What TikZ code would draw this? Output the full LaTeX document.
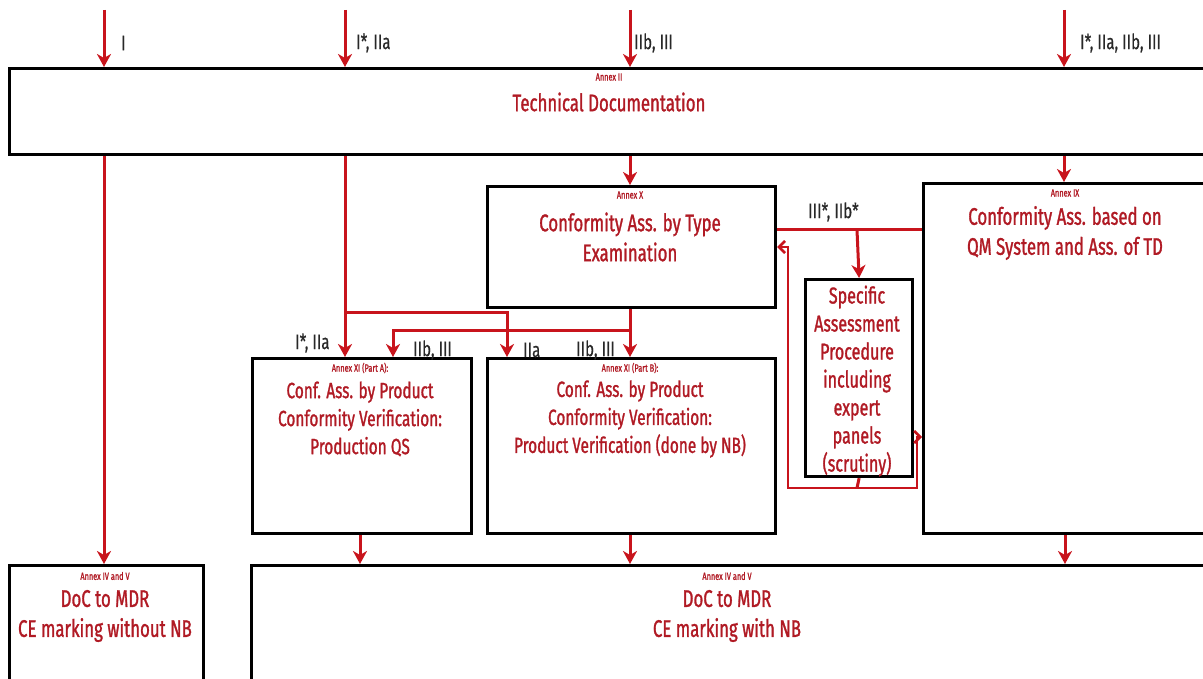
\documentclass[tikz,border=0pt]{standalone}
\usepackage{fontspec}
\setmainfont[FakeStretch=0.7,FakeBold=1.2]{Fira Sans}
\newfontfamily\lblfont[FakeStretch=0.72,FakeBold=0.4]{Fira Sans}
\usetikzlibrary{arrows.meta}
\definecolor{linered}{RGB}{200,20,28}
\definecolor{txtred}{RGB}{176,26,36}
\definecolor{lblgray}{RGB}{40,40,40}
\tikzset{
  box/.style={draw=black, line width=3.2pt, anchor=north west, inner sep=0pt},
  arr/.style={draw=linered, line width=3pt, -{Stealth[length=13pt,width=14pt,inset=4pt]}},
  ln/.style={draw=linered, line width=3pt},
  oarr/.style={draw=linered, line width=2.6pt, -{Straight Barb[length=6pt,width=12pt]}},
  ttl/.style={text=txtred, font=\fontsize{24}{30}\selectfont, align=center, inner sep=0pt},
  anx/.style={text=txtred, font=\fontsize{10.5}{11}\selectfont, inner sep=0pt},
  lbl/.style={text=lblgray, font=\lblfont\fontsize{21}{22}\selectfont, inner sep=0pt, anchor=west},
}
\begin{document}
\begin{tikzpicture}[x=1pt,y=-1pt]
\useasboundingbox (0,0) rectangle (1203,679);
\clip (0,0) rectangle (1203,679);
% boxes
\node[box, minimum width=1215pt, minimum height=86pt] (td) at (8,67) {};
\node[box, minimum width=288pt, minimum height=121pt] (ax) at (486,185) {};
\node[box, minimum width=300pt, minimum height=350pt] (aix) at (922,182) {};
\node[box, minimum width=107pt, minimum height=197pt] (sc) at (804,278) {};
\node[box, minimum width=219pt, minimum height=175pt] (pa) at (251,357) {};
\node[box, minimum width=288pt, minimum height=175pt] (pb) at (486,357) {};
\node[box, minimum width=194pt, minimum height=140pt] (dn) at (8,564) {};
\node[box, minimum width=970pt, minimum height=140pt] (dw) at (250,564) {};
% texts
\node[anx] (tda) at (609,77) {Annex II};
\node[ttl] (tdt) at (609,102) {Technical Documentation};
\node[anx] (axa) at (630,195) {Annex X};
\node[ttl] (axt) at (630,237) {Conformity Ass. by Type\\Examination};
\node[anx] (aixa) at (1065,193) {Annex IX};
\node[ttl] (aixt) at (1065,233) {Conformity Ass. based on\\QM System and Ass. of TD};
\node[ttl, font=\fontsize{23}{28}\selectfont] (sct) at (857,381) {Specific\\Assessment\\Procedure\\including\\expert\\panels\\(scrutiny)};
\node[anx] (paa) at (360,368) {Annex XI (Part A):};
\node[ttl, font=\fontsize{22}{28}\selectfont] (pat) at (360,419) {Conf. Ass. by Product\\Conformity Verification:\\Production QS};
\node[anx] (pba) at (630,368) {Annex XI (Part B):};
\node[ttl, font=\fontsize{22}{28}\selectfont] (pbt) at (630,419) {Conf. Ass. by Product\\Conformity Verification:\\Product Verification (done by NB)};
\node[anx] (dna) at (105,576) {Annex IV and V};
\node[ttl] (dnt) at (105,616) {DoC to MDR\\CE marking without NB};
\node[anx] (dwa) at (727,576) {Annex IV and V};
\node[ttl] (dwt) at (727,616) {DoC to MDR\\CE marking with NB};
% top inputs
\coordinate (s1) at (104,10);
\coordinate (s2) at (345,10);
\coordinate (s3) at (630,10);
\coordinate (s4) at (1064,10);
\draw[arr] (s1) -- (s1 |- td.north);
\draw[arr] (s2) -- (s2 |- td.north);
\draw[arr] (s3) -- (s3 |- td.north);
\draw[arr] (s4) -- (s4 |- td.north);
\node[lbl] (l1) at (121,43) {I};
\node[lbl] (l2) at (356,43) {I*, IIa};
\node[lbl] (l3) at (634,43) {IIb, III};
\node[lbl] (l4) at (1080,43) {I*, IIa, IIb, III};
% from technical documentation
\draw[arr] (s1 |- td.south) -- (s1 |- dn.north);
\draw[arr] (s2 |- td.south) -- (s2 |- pa.north);
\draw[arr] (s3 |- td.south) -- (s3 |- ax.north);
\draw[arr] (s4 |- td.south) -- (s4 |- aix.north);
% routing to annex XI
\coordinate (j1) at (345,313);
\coordinate (j2) at (630,330);
\draw[arr] (j1) -- (507,313) -- (507 ,0 |- pb.north);
\draw[arr] (s3 |- ax.south) -- (s3 |- pb.north);
\draw[arr] (j2) -- (393,330) -- (393,0 |- pa.north);
\node[lbl] (l5) at (295,343) {I*, IIa};
\node[lbl] (l6) at (413,350) {IIb, III};
\node[lbl] (l7) at (523,350) {IIa};
\node[lbl] (l8) at (576,350) {IIb, III};
% scrutiny loop
\coordinate (k1) at (922,230);
\coordinate (k2) at (857,230);
\draw[ln] (k1) -- (ax.east |- k1);
\draw[arr] (k2) -- (sc.north);
\node[lbl] (l9) at (808,212) {III*, IIb*};
\coordinate (b1) at (788,488);
\coordinate (b2) at (917,488);
\draw[ln] (sc.south) -- (857,488);
\draw[oarr] (b2) -- (b1) -- (788,247) -- (ax.east |- 0,247);
\draw[oarr] (b1) -- (b2) -- (917,437) -- (aix.west |- 0,437);
% to DoC with NB
\draw[arr] (pa.south -| 360,0) -- (dw.north -| 360,0);
\draw[arr] (pb.south -| 630,0) -- (dw.north -| 630,0);
\draw[arr] (aix.south -| 1065,0) -- (dw.north -| 1065,0);
\end{tikzpicture}
\end{document}
